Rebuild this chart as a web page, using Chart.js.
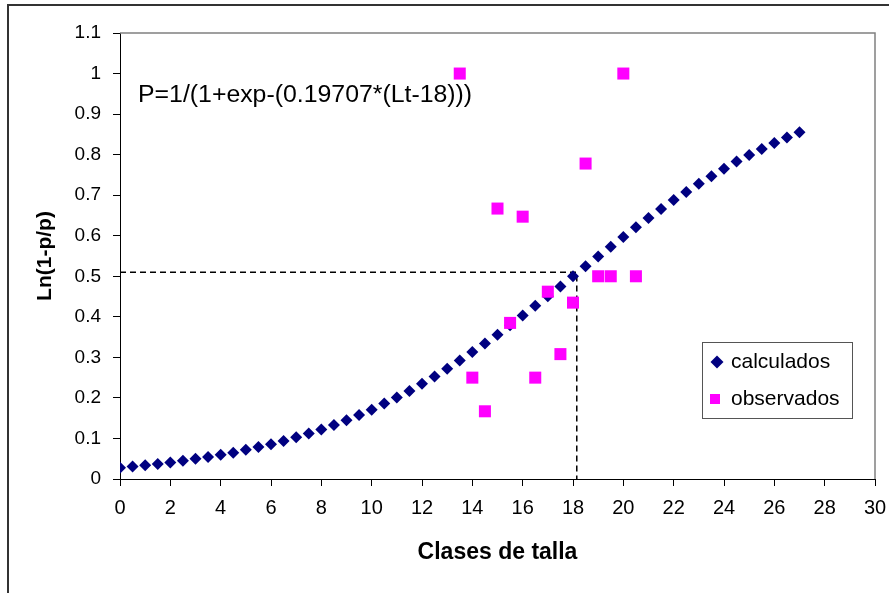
<!DOCTYPE html>
<html>
<head>
<meta charset="utf-8">
<script src="https://cdn.jsdelivr.net/npm/chart.js@4/dist/chart.umd.min.js"></script>
<style>
  html, body { margin: 0; padding: 0; background: #fff; }
  #wrap { width: 889px; height: 593px; position: relative; }
</style>
</head>
<body>
<div id="wrap"><canvas id="chart" width="889" height="593"></canvas></div>
<script>
// size classes (0 .. 27, step 0.5) and the fitted logistic values
const calcX = [0, 0.5, 1, 1.5, 2, 2.5, 3, 3.5, 4, 4.5, 5, 5.5, 6, 6.5, 7, 7.5, 8, 8.5, 9, 9.5,
  10, 10.5, 11, 11.5, 12, 12.5, 13, 13.5, 14, 14.5, 15, 15.5, 16, 16.5, 17, 17.5, 18, 18.5,
  19, 19.5, 20, 20.5, 21, 21.5, 22, 22.5, 23, 23.5, 24, 24.5, 25, 25.5, 26, 26.5, 27];
const calcY = [0.028, 0.031, 0.034, 0.037, 0.041, 0.045, 0.050, 0.054, 0.060, 0.065, 0.072,
  0.079, 0.086, 0.094, 0.103, 0.112, 0.122, 0.133, 0.145, 0.158, 0.171, 0.186, 0.201, 0.217,
  0.235, 0.253, 0.272, 0.292, 0.313, 0.334, 0.356, 0.379, 0.403, 0.427, 0.451, 0.475, 0.500,
  0.525, 0.549, 0.573, 0.597, 0.621, 0.644, 0.666, 0.688, 0.708, 0.728, 0.747, 0.765, 0.783,
  0.799, 0.814, 0.829, 0.842, 0.855];

// observed proportions
const obsX = [13.5, 14, 14.5, 15, 15.5, 16, 16.5, 17, 17.5, 18, 18.5, 19, 19.5, 20, 20.5];
const obsY = [1.0, 0.25, 0.167, 0.667, 0.385, 0.647, 0.25, 0.462, 0.308, 0.435, 0.778, 0.5, 0.5, 1.0, 0.5];

// dashed guide to the 50% size
const guideX = [0, 18.15, 18.15];
const guideY = [0.51, 0.51, 0];

const seriesNames = ['calculados', 'observados'];
const yTickLabels = ['0', '0.1', '0.2', '0.3', '0.4', '0.5', '0.6', '0.7', '0.8', '0.9', '1', '1.1'];
const xTitle = 'Clases de talla';
const yTitle = 'Ln(1-p/p)';
const equation = 'P=1/(1+exp-(0.19707*(Lt-18)))';

const NAVY = '#000080', MAGENTA = '#ff00ff';
const FONT = "'Liberation Sans', Arial, sans-serif";

const toPoints = (xs, ys) => xs.map((x, i) => ({ x, y: ys[i] }));

function diamond(ctx, x, y, r) {
  ctx.beginPath();
  ctx.moveTo(x - r, y);
  ctx.lineTo(x, y - r);
  ctx.lineTo(x + r, y);
  ctx.lineTo(x, y + r);
  ctx.closePath();
  ctx.fill();
}

// outer frame, plot box, equation text and boxed legend
const decor = {
  id: 'decor',
  beforeDraw(chart) {
    const { ctx, width, height } = chart;
    ctx.save();
    ctx.fillStyle = '#fff';
    ctx.fillRect(0, 0, width, height);
    ctx.restore();
  },
  afterDraw(chart) {
    const { ctx, chartArea: a } = chart;
    ctx.save();
    // frame around the whole figure
    ctx.strokeStyle = '#333';
    ctx.lineWidth = 2;
    ctx.beginPath();
    ctx.moveTo(8, chart.height + 5);
    ctx.lineTo(8, 5);
    ctx.lineTo(chart.width + 5, 5);
    ctx.stroke();

    // top and right edge of the plot area
    ctx.strokeStyle = '#808080';
    ctx.lineWidth = 1.5;
    ctx.beginPath();
    ctx.moveTo(a.left, a.top);
    ctx.lineTo(a.right, a.top);
    ctx.lineTo(a.right, a.bottom);
    ctx.stroke();

    // equation, slightly widened like the rest of the lettering
    ctx.save();
    ctx.translate(138, 102);
    ctx.scale(1.08, 1);
    ctx.fillStyle = '#000';
    ctx.font = '23px ' + FONT;
    ctx.textBaseline = 'alphabetic';
    ctx.fillText(equation, 0, 0);
    ctx.restore();

    // legend box
    const lx = 702, ly = 342, lw = 150, lh = 76;
    ctx.fillStyle = '#fff';
    ctx.fillRect(lx, ly, lw, lh);
    ctx.strokeStyle = '#555';
    ctx.lineWidth = 1;
    ctx.strokeRect(lx + 0.5, ly + 0.5, lw, lh);

    ctx.fillStyle = NAVY;
    diamond(ctx, 717, 362, 6.5);
    ctx.fillStyle = MAGENTA;
    ctx.fillRect(710, 394, 10, 10);

    ctx.fillStyle = '#000';
    ctx.font = '21px ' + FONT;
    ctx.textBaseline = 'middle';
    ctx.fillText(seriesNames[0], 731, 362);
    ctx.fillText(seriesNames[1], 731, 399);
    ctx.restore();
  }
};

new Chart(document.getElementById('chart'), {
  type: 'scatter',
  data: {
    datasets: [
      {
        label: seriesNames[1],
        data: toPoints(obsX, obsY),
        pointStyle: 'rect',
        pointRadius: 8.5,
        backgroundColor: MAGENTA,
        borderColor: MAGENTA,
        borderWidth: 0,
        order: 0
      },
      {
        label: seriesNames[0],
        data: toPoints(calcX, calcY),
        pointStyle: 'rectRot',
        pointRadius: 6,
        backgroundColor: NAVY,
        borderColor: NAVY,
        borderWidth: 0,
        order: 1
      },
      {
        label: 'guia',
        data: toPoints(guideX, guideY),
        showLine: true,
        pointRadius: 0,
        borderColor: '#000',
        borderWidth: 1.5,
        borderDash: [6, 4],
        fill: false,
        order: 2
      }
    ]
  },
  options: {
    responsive: false,
    animation: false,
    layout: { padding: { left: 0, top: 33, right: 14, bottom: 0 } },
    plugins: {
      legend: { display: false },
      tooltip: { enabled: false }
    },
    scales: {
      x: {
        type: 'linear',
        min: 0,
        max: 30,
        ticks: { stepSize: 2, color: '#000', padding: 10, font: { family: FONT, size: 20 } },
        grid: { drawOnChartArea: false, color: '#000', tickLength: 7 },
        border: { color: '#000', width: 1 },
        title: {
          display: true,
          text: xTitle,
          color: '#000',
          font: { family: FONT, size: 23, weight: 'bold' },
          padding: { top: 0, bottom: 27 }
        },
        afterFit(scale) {
          scale.height = 114;
          // let the last label run past the edge instead of shrinking the plot
          scale.paddingRight = 0;
          scale.paddingLeft = 0;
        }
      },
      y: {
        min: 0,
        max: 1.1,
        ticks: {
          stepSize: 0.1,
          color: '#000',
          padding: 12,
          font: { family: FONT, size: 19 },
          callback: (v, i) => yTickLabels[i]
        },
        grid: { drawOnChartArea: false, color: '#000', tickLength: 7 },
        border: { color: '#000', width: 1 },
        title: {
          display: true,
          text: yTitle,
          color: '#000',
          font: { family: FONT, size: 21, weight: 'bold' },
          padding: { top: 33, bottom: 0 }
        },
        afterFit(scale) {
          scale.width = 120;
          scale.paddingTop = 0;
          scale.paddingBottom = 0;
        }
      }
    }
  },
  plugins: [decor]
});
</script>
</body>
</html>
